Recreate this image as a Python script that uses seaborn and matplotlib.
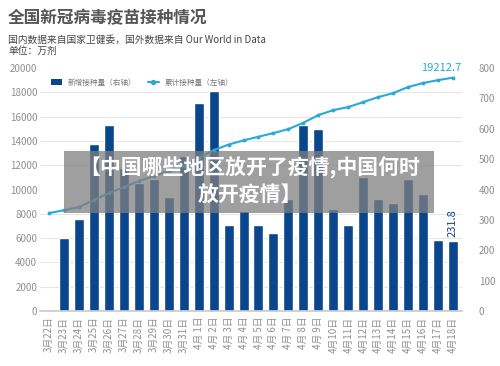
import numpy as np
import pandas as pd
import matplotlib
matplotlib.use("Agg")
import matplotlib.pyplot as plt
from matplotlib.patches import Patch, Rectangle
from matplotlib.lines import Line2D
import seaborn as sns

sns.set_theme(style="white")
plt.rcParams['font.family'] = ['Noto Sans CJK SC', 'DejaVu Sans']

# data (万剂)
dates = ["3月22日", "3月23日", "3月24日", "3月25日", "3月26日", "3月27日", "3月28日",
         "3月29日", "3月30日", "3月31日", "4月 1日", "4月 2日", "4月 3日", "4月 4日",
         "4月 5日", "4月 6日", "4月 7日", "4月 8日", "4月 9日", "4月10日", "4月11日",
         "4月12日", "4月13日", "4月14日", "4月15日", "4月16日", "4月17日", "4月18日"]
daily = [0, 242, 302, 550, 612, 472, 421, 434, 375, 510, 685, 724, 283, 329,
         283, 257, 369, 612, 601, 336, 283, 441, 369, 356, 434, 385, 233, 231.8]
cumulative = [8065, 8300, 8560, 9140, 9710, 10200, 10700, 11110, 11520, 11930, 12590,
              13250, 13700, 14050, 14350, 14650, 14980, 15500, 16130, 16540, 16790,
              17200, 17610, 17940, 18440, 18770, 19010, 19212.7]

bar_color = "#0a468c"
line_color = "#2aa9d8"
tick_color = "#8f8f8f"

df = pd.DataFrame({"date": dates, "daily": daily, "cum": cumulative,
                   "pos": np.arange(len(dates))})

fig = plt.figure(figsize=(5, 3.66), dpi=100)
ax = fig.add_axes([0.08, 0.150, 0.844, 0.664])
ax2 = ax.twinx()

# bars on the right axis
sns.barplot(data=df, x="pos", y="daily", ax=ax2, color=bar_color, width=0.67,
            saturation=1, native_scale=True)
ax2.set_ylim(0, 800)
ax2.set_yticks(np.arange(0, 801, 100))
# grid follows the left axis (every 2000 -> every 80 on the right scale)
ax2.set_yticks(np.arange(0, 801, 80), minor=True)
ax2.grid(which="minor", axis="y", color="#e6e6e6", linewidth=0.8)
ax2.grid(which="major", axis="y", visible=False)
ax2.set_axisbelow(True)
ax2.tick_params(axis="y", which="both", length=0, labelsize=7, labelcolor=tick_color, pad=12)
ax2.set_ylabel("")

# cumulative line on the left axis
sns.lineplot(data=df, x="pos", y="cum", ax=ax, color=line_color, linewidth=1.5,
             marker="o", markersize=2.8, markeredgewidth=0)
ax.set_ylim(0, 20000)
ax.set_yticks(np.arange(0, 20001, 2000))
ax.set_zorder(ax2.get_zorder() + 1)
ax.patch.set_visible(False)
ax.set_xlim(-0.6, 27.6)
ax.set_xticks(np.arange(len(dates)))
ax.set_xticklabels(dates, rotation=90)
ax.tick_params(axis="x", length=0, labelsize=7, labelcolor=tick_color, pad=4)
ax.tick_params(axis="y", length=0, labelsize=7, labelcolor=tick_color, pad=2)
ax.set_xlabel("")
ax.set_ylabel("")

for a in (ax, ax2):
    for s in ("top", "left", "right"):
        a.spines[s].set_visible(False)
ax.spines["bottom"].set_color("#cccccc")
ax2.spines["bottom"].set_visible(False)

ax.annotate("19212.7", (27, cumulative[-1]), xytext=(6, 3), textcoords="offset points",
            ha="right", va="bottom", color=line_color, fontsize=8)
ax2.annotate("231.8", (27, daily[-1]), xytext=(0, 3), textcoords="offset points",
             ha="center", va="bottom", rotation=90, color=bar_color, fontsize=8)

handles = [Patch(facecolor=bar_color, edgecolor="none"),
           Line2D([], [], color=line_color, linewidth=1.5, marker="o", markersize=2.8)]
ax.legend(handles, ["新增接种量（右轴）", "累计接种量（左轴）"], loc="center left",
          bbox_to_anchor=(0.01, 0.94), ncol=2, frameon=False, fontsize=5.5,
          labelcolor="#777777", handlelength=1.4, handleheight=0.8, columnspacing=1.5)

fig.text(0.016, 0.951, "全国新冠病毒疫苗接种情况", fontsize=12, fontweight="bold",
         color="#555555", va="center")
fig.text(0.016, 0.891, "国内数据来自国家卫健委，国外数据来自 Our World in Data",
         fontsize=7, color="#444444", va="center")
fig.text(0.016, 0.861, "单位：万剂", fontsize=7, color="#444444", va="center")

# watermark overlay
fig.patches.append(Rectangle((0.128, 0.418), 0.74, 0.169, transform=fig.transFigure,
                             facecolor="#7f7f7f", alpha=0.75, edgecolor="none", zorder=10))
fig.text(0.5, 0.541, "【中国哪些地区放开了疫情,中国何时", fontsize=15, fontweight="bold",
         color="white", ha="center", va="center", zorder=11)
fig.text(0.5, 0.467, "放开疫情】", fontsize=15, fontweight="bold",
         color="white", ha="center", va="center", zorder=11)

fig.savefig("out.png", dpi=100)
